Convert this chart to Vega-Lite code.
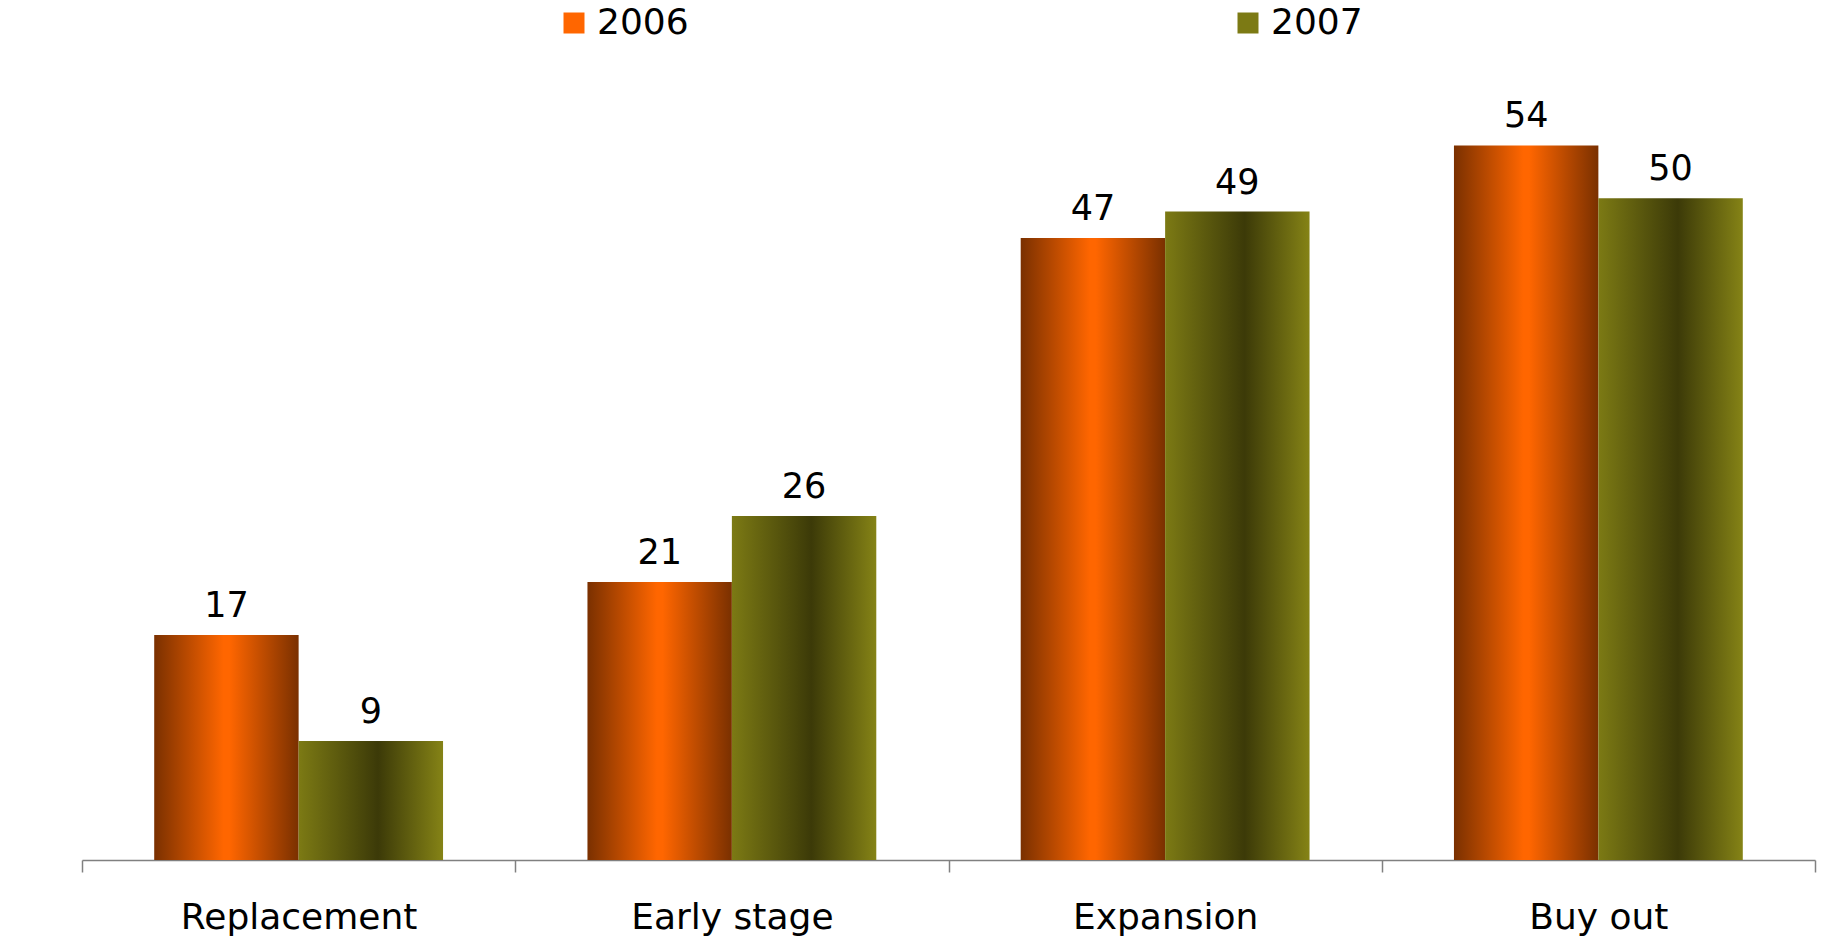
{
  "$schema": "https://vega.github.io/schema/vega-lite/v6.json",
  "width": 1733,
  "height": 794,
  "autosize": {"type": "none"},
  "padding": {"left": 82, "top": 66, "right": 27, "bottom": 78},
  "background": "white",
  "config": {"view": {"stroke": null}, "font": "DejaVu Sans"},
  "datasets": {
    "bars": [
      {"category": "Replacement", "year": "2006", "value": 17},
      {"category": "Replacement", "year": "2007", "value": 9},
      {"category": "Early stage", "year": "2006", "value": 21},
      {"category": "Early stage", "year": "2007", "value": 26},
      {"category": "Expansion", "year": "2006", "value": 47},
      {"category": "Expansion", "year": "2007", "value": 49},
      {"category": "Buy out", "year": "2006", "value": 54},
      {"category": "Buy out", "year": "2007", "value": 50}
    ],
    "watermark": [{"label": "AIFI", "category": "Replacement"}]
  },
  "encoding": {
    "x": {
      "field": "category", "type": "nominal",
      "scale": {"domain": ["Replacement", "Early stage", "Expansion", "Buy out"], "paddingInner": 0, "paddingOuter": 0},
      "axis": {
        "title": null, "labelAngle": 0, "labelFont": "DejaVu Sans", "labelFontSize": 36, "labelColor": "#000000",
        "labelBaseline": "alphabetic", "labelPadding": 56, "labelLimit": 500, "tickBand": "extent", "tickSize": 12,
        "tickColor": "#808080", "domainColor": "#808080", "domainWidth": 1.5, "tickWidth": 1.5, "grid": false
      }
    },
    "y": {"field": "value", "type": "quantitative", "scale": {"domain": [0, 60]}, "axis": null}
  },
  "layer": [
    {
      "data": {"name": "watermark"},
      "mark": {"type": "text", "font": "Liberation Serif", "fontSize": 970, "color": "#efefef", "align": "left", "baseline": "alphabetic", "dx": -302, "limit": 0, "clip": false},
      "encoding": {
        "y": {"datum": 10.43, "type": "quantitative"},
        "text": {"field": "label", "type": "nominal"}
      }
    },
    {
      "data": {"name": "bars"},
      "transform": [{"filter": "datum.year === '2006'"}],
      "mark": {"type": "bar", "fill": {"gradient": "linear", "x1": 0, "y1": 0, "x2": 1, "y2": 0, "stops": [{"offset": 0, "color": "#7a3000"}, {"offset": 0.48, "color": "#ff6600"}, {"offset": 0.52, "color": "#ff6600"}, {"offset": 1, "color": "#7a3000"}]}},
      "encoding": {
        "xOffset": {"field": "year", "type": "nominal", "scale": {"domain": ["2006", "2007"], "paddingInner": 0, "paddingOuter": 0.5}}
      }
    },
    {
      "data": {"name": "bars"},
      "transform": [{"filter": "datum.year === '2007'"}],
      "mark": {"type": "bar", "fill": {"gradient": "linear", "x1": 0, "y1": 0, "x2": 1, "y2": 0, "stops": [{"offset": 0, "color": "#7c7a14"}, {"offset": 0.55, "color": "#3c3a08"}, {"offset": 1, "color": "#858316"}]}},
      "encoding": {
        "xOffset": {"field": "year", "type": "nominal"}
      }
    },
    {
      "data": {"name": "bars"},
      "mark": {"type": "square", "opacity": 0},
      "encoding": {
        "xOffset": {"field": "year", "type": "nominal"},
        "color": {
          "field": "year", "type": "nominal",
          "scale": {"range": ["#ff6600", "#7c7a14"]},
          "legend": {
            "title": null, "orient": "none", "legendX": 474, "legendY": -61, "direction": "horizontal",
            "symbolType": "square", "symbolSize": 441, "symbolOpacity": 1, "labelFont": "DejaVu Sans", "labelFontSize": 36,
            "labelColor": "#000000", "labelOffset": 5, "columnPadding": 541, "padding": 0, "symbolStrokeWidth": 0
          }
        }
      }
    },
    {
      "data": {"name": "bars"},
      "mark": {"type": "text", "font": "DejaVu Sans", "fontSize": 35, "baseline": "alphabetic", "dy": -18, "color": "#000000"},
      "encoding": {
        "xOffset": {"field": "year", "type": "nominal"},
        "text": {"field": "value"}
      }
    }
  ]
}
